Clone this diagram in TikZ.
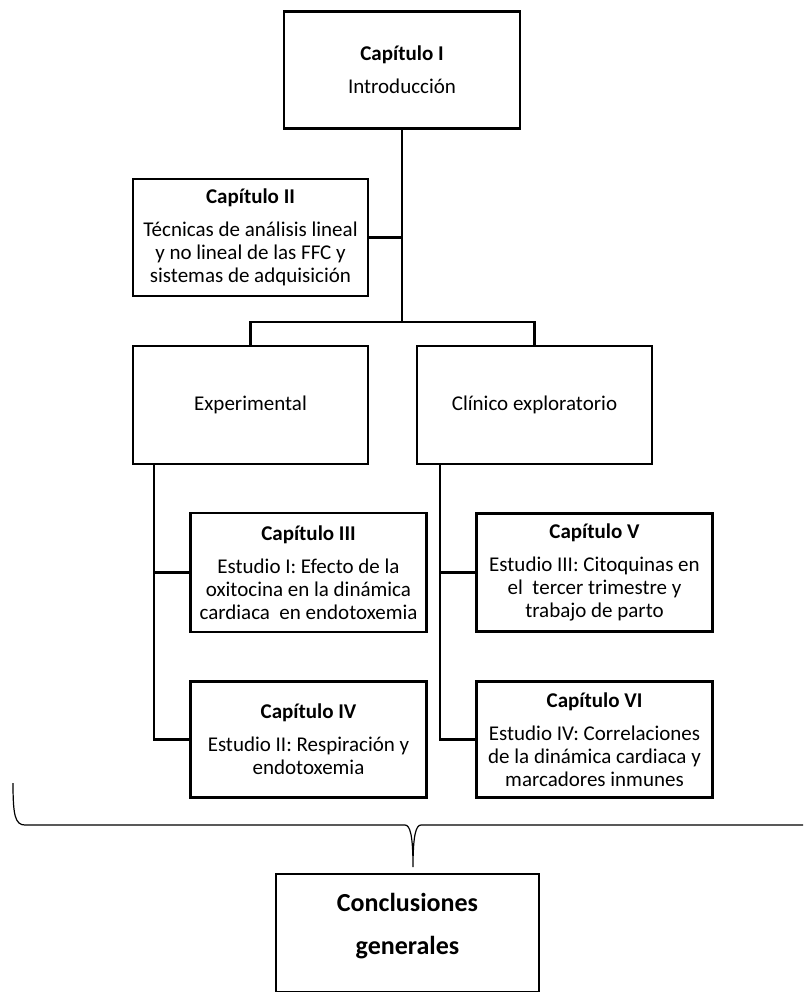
\documentclass[tikz,border=0pt]{standalone}
\usepackage{fontspec}
\setmainfont{Carlito}
\usepackage{tikz}
\tikzstyle{chapbox} = [draw=black, line width=2.4pt, fill=white, rectangle,
    align=center, inner sep=0pt, minimum width=236pt, minimum height=117pt,
    font=\fontsize{21}{23}\selectfont]
\tikzstyle{link} = [line width=2.6pt]
\newcommand{\chap}[2]{{\bfseries #1}\\[10pt]#2}

\begin{document}
\begin{tikzpicture}[x=1pt,y=-1pt]
    \useasboundingbox (0,0) rectangle (803,992);
    \node[chapbox] (cap1) at (402,70) {\chap{Capítulo I}{Introducción}};
    \node[chapbox, minimum width=235pt] (cap2) at (250.5,237.5) {\chap{Capítulo II}{Técnicas de análisis lineal\\y no lineal de las FFC y\\sistemas de adquisición}};
    \node[chapbox, minimum width=235pt, minimum height=118pt] (exper) at (250.5,405) {Experimental};
    \node[chapbox, minimum width=235pt, minimum height=118pt] (clin) at (534.5,405) {Clínico exploratorio};
    \node[chapbox, minimum height=119pt] (cap3) at (308.5,572.5) {\chap{Capítulo III}{Estudio I: Efecto de la\\oxitocina en la dinámica\\cardiaca\ \ en endotoxemia}};
    \node[chapbox, minimum height=116pt] (cap4) at (308.5,739.5) {\chap{Capítulo IV}{Estudio II: Respiración y\\endotoxemia}};
    \node[chapbox, minimum height=118pt] (cap5) at (594.5,572.5) {\chap{Capítulo V}{Estudio III: Citoquinas en\\el\ \ tercer trimestre y\\trabajo de parto}};
    \node[chapbox, minimum height=116pt] (cap6) at (594.5,739.5) {\chap{Capítulo VI}{Estudio IV: Correlaciones\\de la dinámica cardiaca y\\marcadores inmunes}};
    \node[chapbox, minimum width=263pt, minimum height=118pt] (concl) at (407.5,933) {};
    \node[align=center, inner sep=0pt, font=\fontsize{26}{43}\selectfont\bfseries] (conclt) at (407.5,926.5) {Conclusiones\\generales};

    \coordinate (split) at (402,322);
    \draw[link] (cap1.south) -- (split);
    \draw[link] (cap2.east) -- (cap2.east -| split);
    \draw[link] (exper.north) |- (split) -| (clin.north);
    \draw[link] ([xshift=22pt]exper.south west) coordinate (ltop) |- (cap4.west);
    \draw[link] (cap3.west) -- (cap3.west -| ltop);
    \draw[link] ([xshift=24pt]clin.south west) coordinate (rtop) |- (cap6.west);
    \draw[link] (cap5.west) -- (cap5.west -| rtop);

    \coordinate (tip) at (413,867);
    \draw[line width=1.2pt] (13,783) .. controls (13,815) and (15,825) .. (25,825)
        -- (405,825) .. controls (410,825) and (413,835) .. (tip)
        .. controls (413,835) and (416,825) .. (421,825) -- (803,825);
\end{tikzpicture}
\end{document}
